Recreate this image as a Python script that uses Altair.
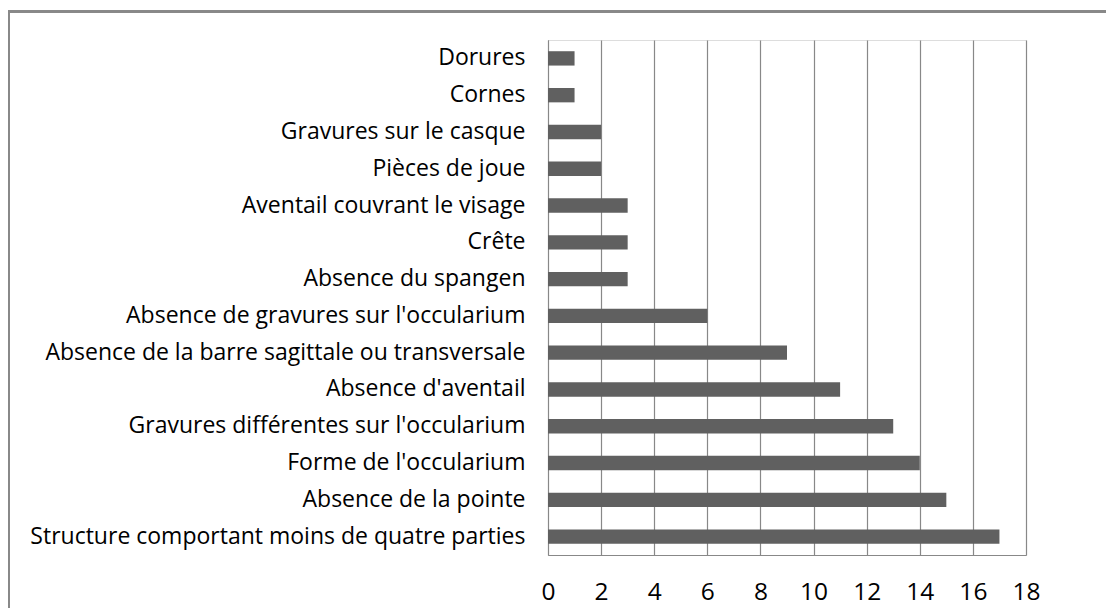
import altair as alt
import pandas as pd

categories = [
    "Dorures",
    "Cornes",
    "Gravures sur le casque",
    "Pièces de joue",
    "Aventail couvrant le visage",
    "Crête",
    "Absence du spangen",
    "Absence de gravures sur l'occularium",
    "Absence de la barre sagittale ou transversale",
    "Absence d'aventail",
    "Gravures différentes sur l'occularium",
    "Forme de l'occularium",
    "Absence de la pointe",
    "Structure comportant moins de quatre parties",
]
values = [1, 1, 2, 2, 3, 3, 3, 6, 9, 11, 13, 14, 15, 17]
x_ticks = [0, 2, 4, 6, 8, 10, 12, 14, 16, 18]

df = pd.DataFrame({"cat": categories, "val": values})

FONT = "Open Sans"
W, H = 478, 515
PAD_L, PAD_T = 540, 32

bars = alt.Chart(df).mark_bar(color="#606060").encode(
    y=alt.Y(
        "cat:N",
        sort=categories,
        title=None,
        scale=alt.Scale(paddingInner=0.61, paddingOuter=0.305),
        axis=alt.Axis(
            labelFont=FONT,
            labelFontSize=23,
            labelColor="#000000",
            labelPadding=23,
            ticks=False,
            domain=True,
            domainColor="#888888",
            grid=False,
            labelLimit=0,
        ),
    ),
    x=alt.X(
        "val:Q",
        title=None,
        scale=alt.Scale(domain=[0, 18], nice=False),
        axis=alt.Axis(
            values=x_ticks,
            labelFont=FONT,
            labelFontSize=24.5,
            labelColor="#000000",
            labelPadding=25,
            labelFlush=False,
            labelOverlap=False,
            ticks=False,
            domain=True,
            domainColor="#888888",
            grid=True,
            gridColor="#888888",
            gridWidth=1.2,
        ),
    ),
)

frame = alt.Chart(df).mark_rect(
    fill=None, stroke="#888888", strokeWidth=1.5
).encode(
    x=alt.value(-539.5),
    x2=alt.value(W + 200),
    y=alt.value(-28.5),
    y2=alt.value(H + 200),
)

chart = (
    alt.layer(frame, bars)
    .properties(
        width=W,
        height=H,
        autosize=alt.AutoSizeParams(type="none"),
        padding={"left": PAD_L, "top": PAD_T, "right": 80, "bottom": 53},
    )
    .configure_view(stroke=None)
    .configure(background="#ffffff")
)

chart.save("out.html", embed_options={"renderer": "svg", "actions": False})
